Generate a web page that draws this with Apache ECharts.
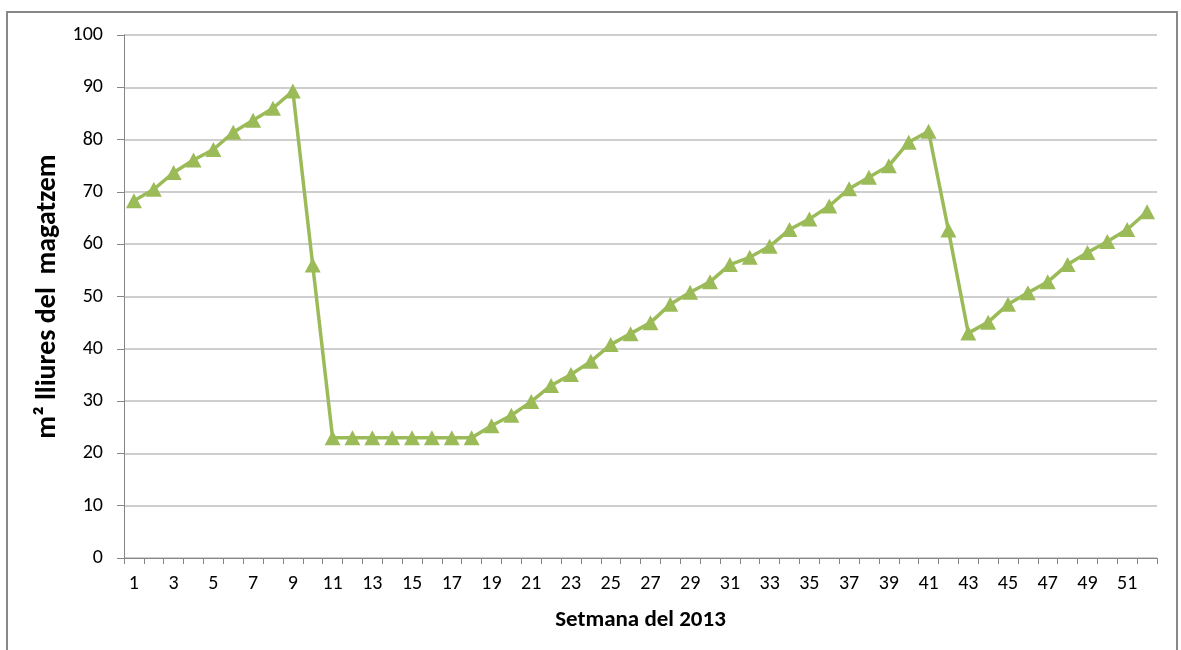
<!DOCTYPE html>
<html>
<head>
<meta charset="utf-8">
<script src="https://cdn.jsdelivr.net/npm/echarts@6/dist/echarts.min.js"></script>
<style>
  html, body { margin: 0; padding: 0; background: #ffffff; }
  #chart { width: 1181px; height: 650px; }
</style>
</head>
<body>
<div id="chart"></div>
<script>
// Weeks of 2013 (1..52)
const weeks = Array.from({ length: 52 }, (_, i) => String(i + 1));

// Free warehouse floor area (m²) per week
const freeArea = [
  68.3, 70.5, 73.7, 76.1, 78.1, 81.4, 83.7, 86.0, 89.3, 56.0,
  23.0, 23.0, 23.0, 23.0, 23.0, 23.0, 23.0, 23.0, 25.3, 27.3,
  29.9, 33.0, 35.1, 37.6, 40.8, 42.9, 45.0, 48.5, 50.8, 52.8,
  56.1, 57.5, 59.6, 62.8, 64.8, 67.3, 70.6, 72.8, 75.0, 79.5,
  81.6, 62.7, 43.0, 45.1, 48.5, 50.7, 52.8, 56.1, 58.4, 60.5,
  62.8, 66.2
];

const yAxisName = 'm\u00B2 lliures del  magatzem';
const xAxisName = 'Setmana del 2013';

const font = 'Carlito, Lato, "Open Sans", sans-serif';

const chart = echarts.init(document.getElementById('chart'), null, { renderer: 'canvas' });

chart.setOption({
  animation: false,
  backgroundColor: '#ffffff',
  graphic: [{
    type: 'rect',
    silent: true,
    z: 100,
    shape: { x: 7, y: 12, width: 1170, height: 700 },
    style: { fill: 'none', stroke: '#888888', lineWidth: 2 }
  }],
  grid: { left: 124, right: 24, top: 35, bottom: 92, containLabel: false },
  xAxis: {
    type: 'category',
    data: weeks,
    boundaryGap: true,
    name: xAxisName,
    nameLocation: 'middle',
    nameGap: 51,
    nameTextStyle: { fontFamily: font, fontSize: 23, fontWeight: 'bold', color: '#000000' },
    axisLine: { lineStyle: { color: '#868686', width: 1 } },
    axisTick: { show: true, interval: 0, length: 6, lineStyle: { color: '#868686' } },
    axisLabel: { interval: 1, margin: 16, fontFamily: font, fontSize: 20, color: '#000000' },
    splitLine: { show: false }
  },
  yAxis: {
    type: 'value',
    min: 0,
    max: 100,
    interval: 10,
    name: yAxisName,
    nameLocation: 'middle',
    nameGap: 58,
    nameRotate: 90,
    nameTextStyle: { fontFamily: font, fontSize: 28, fontWeight: 'bold', color: '#000000' },
    axisLine: { show: true, lineStyle: { color: '#868686', width: 1 } },
    axisTick: { show: true, length: 7, lineStyle: { color: '#868686' } },
    axisLabel: { margin: 21, fontFamily: font, fontSize: 20, color: '#000000' },
    splitLine: { show: true, lineStyle: { color: '#BEBEBE', width: 1.5 } }
  },
  series: [{
    type: 'line',
    data: freeArea,
    symbol: 'triangle',
    symbolSize: [16, 15],
    showAllSymbol: true,
    lineStyle: { color: '#9BBB59', width: 3.5 },
    itemStyle: { color: '#9BBB59', borderWidth: 0 },
    emphasis: { disabled: true }
  }]
});
</script>
</body>
</html>
